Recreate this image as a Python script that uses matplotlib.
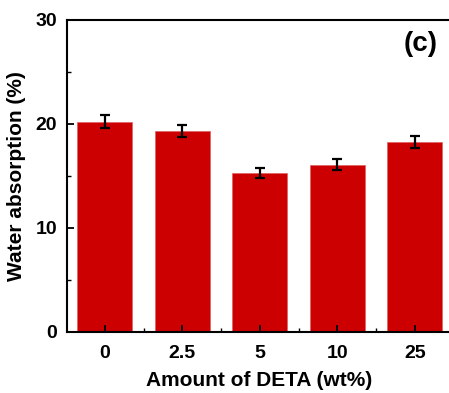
import matplotlib
matplotlib.use("Agg")
import matplotlib.pyplot as plt
from matplotlib.ticker import MultipleLocator, FixedLocator

categories = ["0", "2.5", "5", "10", "25"]
values = [20.2, 19.35, 15.3, 16.1, 18.25]
errors = [0.63, 0.6, 0.48, 0.55, 0.6]

plt.rcParams['font.family'] = ['Liberation Sans', 'DejaVu Sans']
plt.rcParams['font.weight'] = 'bold'

W, H = 449, 393
fig = plt.figure(figsize=(W/100, H/100), dpi=100)
ax = fig.add_axes([67/W, 1-332/H, (452-67)/W, (332-20)/H])

x = list(range(len(categories)))
ax.bar(x, values, width=0.71, color='#cc0000', edgecolor='#e06060', linewidth=0.5,
       yerr=errors, error_kw=dict(ecolor='black', elinewidth=1.6, capsize=3.5, capthick=1.6))

ax.set_xlim(-0.49, 4.48)
ax.set_ylim(0, 30)
ax.set_xticks(x)
ax.set_xticklabels(categories)
ax.xaxis.set_minor_locator(FixedLocator([0.5, 1.5, 2.5, 3.5]))
ax.yaxis.set_major_locator(MultipleLocator(10))
ax.yaxis.set_minor_locator(MultipleLocator(5))
ax.tick_params(which='major', direction='in', length=5, width=1.3, labelsize=14)
ax.tick_params(axis='x', which='major', pad=9)
ax.tick_params(axis='y', which='major', pad=7)
ax.tick_params(which='minor', direction='in', length=3, width=1.0)
for s in ax.spines.values():
    s.set_linewidth(1.5)
for lab in ax.get_xticklabels() + ax.get_yticklabels():
    lab.set_fontweight('bold')

ax.set_xlabel("Amount of DETA (wt%)", fontsize=15, fontweight='bold', labelpad=7)
ax.set_ylabel("Water absorption (%)", fontsize=15, fontweight='bold', labelpad=7)

fig.text(438/W, 1-31/H, "(c)", fontsize=20, fontweight='bold', ha='right', va='top')

fig.savefig("out.png", dpi=100)
